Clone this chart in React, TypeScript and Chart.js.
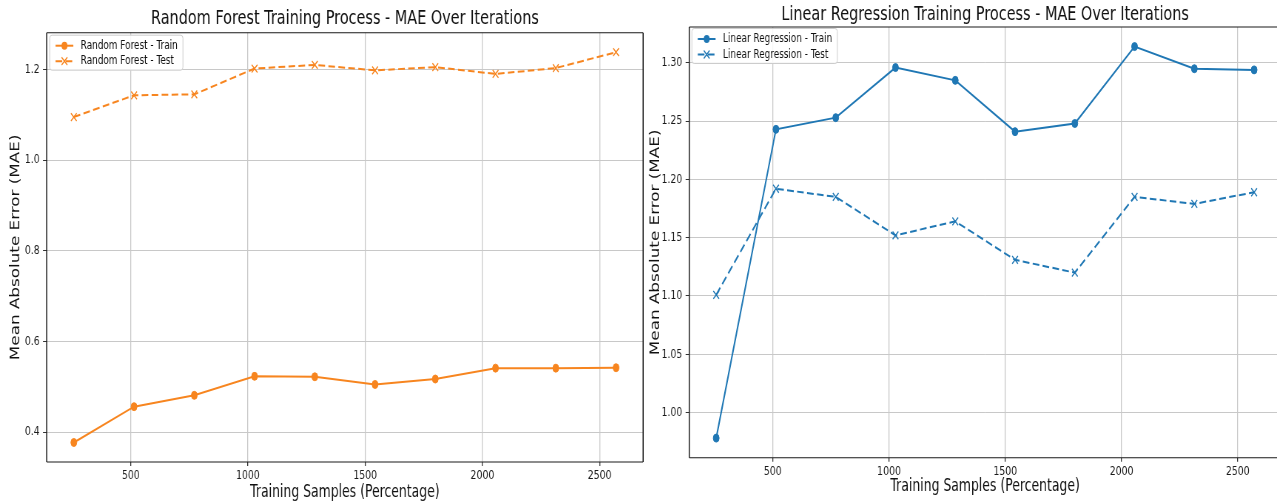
import React, { useEffect, useRef } from "react";
import { Chart, registerables } from "chart.js";

Chart.register(...registerables);

// ---------------- data ----------------
const TRAINING_SAMPLES = [257, 514, 771, 1028, 1285, 1542, 1799, 2056, 2313, 2570];
const X_TICKS = [500, 1000, 1500, 2000, 2500];
const X_TICK_LABELS = ["500", "1000", "1500", "2000", "2500"];

const RF_TRAIN_MAE = [0.377, 0.456, 0.481, 0.523, 0.522, 0.505, 0.517, 0.541, 0.541, 0.542];
const RF_TEST_MAE = [1.095, 1.143, 1.145, 1.202, 1.21, 1.198, 1.205, 1.19, 1.203, 1.238];
const RF_Y_TICKS = [0.4, 0.6, 0.8, 1.0, 1.2];
const RF_Y_TICK_LABELS = ["0.4", "0.6", "0.8", "1.0", "1.2"];

const LR_TRAIN_MAE = [0.978, 1.243, 1.253, 1.296, 1.285, 1.241, 1.248, 1.314, 1.295, 1.294];
const LR_TEST_MAE = [1.101, 1.192, 1.185, 1.152, 1.164, 1.131, 1.12, 1.185, 1.179, 1.189];
const LR_Y_TICKS = [1.0, 1.05, 1.1, 1.15, 1.2, 1.25, 1.3];
const LR_Y_TICK_LABELS = ["1.00", "1.05", "1.10", "1.15", "1.20", "1.25", "1.30"];

// ---------------- styling / layout ----------------
const SX = 0.74; // horizontal squeeze of the reference picture
const H = 503;
const FONT = "'DejaVu Sans', 'Noto Sans', sans-serif";

type Spec = {
  title: string;
  trainLabel: string;
  testLabel: string;
  color: string;
  train: number[];
  test: number[];
  yTicks: number[];
  yTickLabels: string[];
  width: number;
  displayLeft: number;
  yAxisWidth: number;
  padRight: number;
  padBottom: number;
  titleTop: number;
  titleBottom: number;
  yTitlePad: number;
  xTitlePad: number;
  legendX: number;
  legendY: number;
  rightSpine: boolean;
};

const RF_SPEC: Spec = {
  title: "Random Forest Training Process - MAE Over Iterations",
  trainLabel: "Random Forest - Train",
  testLabel: "Random Forest - Test",
  color: "#f7851f",
  train: RF_TRAIN_MAE,
  test: RF_TEST_MAE,
  yTicks: RF_Y_TICKS,
  yTickLabels: RF_Y_TICK_LABELS,
  width: 876,
  displayLeft: 0,
  yAxisWidth: 63.1,
  padRight: 5.7,
  padBottom: 0,
  titleTop: 7,
  titleBottom: 1.7,
  yTitlePad: 11.6,
  xTitlePad: 0,
  legendX: 4,
  legendY: 2.5,
  rightSpine: true,
};

const LR_SPEC: Spec = {
  title: "Linear Regression Training Process - MAE Over Iterations",
  trainLabel: "Linear Regression - Train",
  testLabel: "Linear Regression - Test",
  color: "#1f77b4",
  train: LR_TRAIN_MAE,
  test: LR_TEST_MAE,
  yTicks: LR_Y_TICKS,
  yTickLabels: LR_Y_TICK_LABELS,
  width: 900,
  displayLeft: 648,
  yAxisWidth: 55.8,
  padRight: 44.6,
  padBottom: 4.3,
  titleTop: 3,
  titleBottom: 0,
  yTitlePad: 0.8,
  xTitlePad: 1.7,
  legendX: 3.5,
  legendY: 1.5,
  rightSpine: false, // cut off by the picture edge in the reference
};

function paddedRange(vals: number[]): [number, number] {
  const mn = Math.min(...vals);
  const mx = Math.max(...vals);
  const m = (mx - mn) * 0.05;
  return [mn - m, mx + m];
}

function makeFramePlugin(rightSpine: boolean) {
  return {
    id: "mplFrame",
    afterDatasetsDraw(chart: any) {
      const { ctx, chartArea: a } = chart;
      ctx.save();
      ctx.strokeStyle = "#1a1a1a";
      ctx.lineWidth = 1.1;
      ctx.beginPath();
      ctx.moveTo(a.left, a.top);
      ctx.lineTo(a.right, a.top);
      ctx.moveTo(a.left, a.bottom);
      ctx.lineTo(a.right, a.bottom);
      ctx.stroke();
      ctx.lineWidth = 1.5;
      ctx.beginPath();
      ctx.moveTo(a.left, a.top);
      ctx.lineTo(a.left, a.bottom);
      if (rightSpine) {
        ctx.moveTo(a.right, a.top);
        ctx.lineTo(a.right, a.bottom);
      }
      ctx.stroke();
      ctx.restore();
    },
  };
}

function makeLegendPlugin(offX: number, offY: number) {
  return {
    id: "mplLegend",
    afterDraw(chart: any) {
      const { ctx, chartArea: a } = chart;
      const ds = chart.data.datasets;
      const fs = 12;
      ctx.save();
      ctx.font = `${fs}px ${FONT}`;
      const textW = Math.max(...ds.map((d: any) => ctx.measureText(d.label).width));
      const left = a.left + offX;
      const top = a.top + offY;
      const w = 42 + textW + 7;
      const h = 35;
      ctx.beginPath();
      if ((ctx as any).roundRect) (ctx as any).roundRect(left, top, w, h, 3);
      else ctx.rect(left, top, w, h);
      ctx.fillStyle = "rgba(255,255,255,0.85)";
      ctx.fill();
      ctx.strokeStyle = "#cccccc";
      ctx.lineWidth = 1;
      ctx.stroke();
      ds.forEach((d: any, i: number) => {
        const cy = top + 10.5 + i * 15.5;
        const x0 = left + 8;
        const x1 = left + 32;
        const cx = (x0 + x1) / 2;
        ctx.strokeStyle = d.borderColor;
        ctx.lineWidth = d.borderWidth;
        ctx.setLineDash(d.borderDash || []);
        ctx.beginPath();
        ctx.moveTo(x0, cy);
        ctx.lineTo(x1, cy);
        ctx.stroke();
        ctx.setLineDash([]);
        if (d.pointStyle === "circle") {
          ctx.beginPath();
          ctx.arc(cx, cy, d.pointRadius, 0, Math.PI * 2);
          ctx.fillStyle = d.pointBackgroundColor;
          ctx.fill();
        } else {
          const r = d.pointRadius * Math.SQRT1_2;
          ctx.lineWidth = d.pointBorderWidth;
          ctx.beginPath();
          ctx.moveTo(cx - r, cy - r);
          ctx.lineTo(cx + r, cy + r);
          ctx.moveTo(cx - r, cy + r);
          ctx.lineTo(cx + r, cy - r);
          ctx.stroke();
        }
        ctx.fillStyle = "#111";
        ctx.textBaseline = "middle";
        ctx.textAlign = "left";
        ctx.fillText(d.label, left + 42, cy);
      });
      ctx.restore();
    },
  };
}

function buildConfig(s: Spec): any {
  const xr = paddedRange(TRAINING_SAMPLES);
  const yr = paddedRange([...s.train, ...s.test]);
  const toPts = (ys: number[]) => TRAINING_SAMPLES.map((x, i) => ({ x, y: ys[i] }));
  const tickFont = { family: FONT, size: 12.6 };
  const labelFont = { family: FONT, size: 16.8, lineHeight: "20px" };
  return {
    type: "line",
    data: {
      datasets: [
        {
          label: s.trainLabel,
          data: toPts(s.train),
          borderColor: s.color,
          backgroundColor: s.color,
          borderWidth: 2,
          pointStyle: "circle",
          pointRadius: 4,
          pointBorderWidth: 1,
          pointBackgroundColor: s.color,
          pointBorderColor: s.color,
          tension: 0,
          fill: false,
        },
        {
          label: s.testLabel,
          data: toPts(s.test),
          borderColor: s.color,
          backgroundColor: s.color,
          borderWidth: 2,
          borderDash: [9, 4.5],
          pointStyle: "crossRot",
          pointRadius: 5.5,
          pointBorderWidth: 1.4,
          pointBackgroundColor: s.color,
          pointBorderColor: s.color,
          tension: 0,
          fill: false,
        },
      ],
    },
    options: {
      responsive: false,
      animation: false,
      devicePixelRatio: 1,
      events: [],
      layout: { padding: { left: 0, right: s.padRight, top: 0, bottom: s.padBottom } },
      plugins: {
        legend: { display: false },
        tooltip: { enabled: false },
        title: {
          display: true,
          text: s.title,
          color: "#111",
          fullSize: false,
          font: { family: FONT, size: 19.5, weight: "normal", lineHeight: "24px" },
          padding: { top: s.titleTop, bottom: s.titleBottom },
        },
      },
      scales: {
        x: {
          type: "linear",
          min: xr[0],
          max: xr[1],
          afterBuildTicks: (sc: any) => {
            sc.ticks = X_TICKS.map((v) => ({ value: v }));
          },
          afterFit: (sc: any) => {
            sc.height = 41;
          },
          ticks: {
            callback: (_v: any, i: number) => X_TICK_LABELS[i],
            font: tickFont,
            color: "#1a1a1a",
            padding: 2,
            maxRotation: 0,
            autoSkip: false,
          },
          grid: {
            color: "#c8c8c8",
            lineWidth: 1.3,
            tickColor: "#333",
            tickLength: 4,
            tickWidth: 1.3,
          },
          border: { display: false },
          title: {
            display: true,
            text: "Training Samples (Percentage)",
            color: "#111",
            font: labelFont,
            padding: { top: 0, bottom: s.xTitlePad },
          },
        },
        y: {
          type: "linear",
          min: yr[0],
          max: yr[1],
          afterBuildTicks: (sc: any) => {
            sc.ticks = s.yTicks.map((v) => ({ value: v }));
          },
          afterFit: (sc: any) => {
            sc.width = s.yAxisWidth;
          },
          ticks: {
            callback: (_v: any, i: number) => s.yTickLabels[i],
            font: tickFont,
            color: "#1a1a1a",
            padding: 4.5,
            autoSkip: false,
          },
          grid: {
            color: "#c8c8c8",
            lineWidth: 1,
            tickColor: "#333",
            tickLength: 5,
            tickWidth: 1,
          },
          border: { display: false },
          title: {
            display: true,
            text: "Mean Absolute Error (MAE)",
            color: "#111",
            font: labelFont,
            padding: { top: s.yTitlePad, bottom: 0 },
          },
        },
      },
    },
    plugins: [makeFramePlugin(s.rightSpine), makeLegendPlugin(s.legendX, s.legendY)],
  };
}

function Panel({ spec }: { spec: Spec }) {
  const ref = useRef<HTMLCanvasElement | null>(null);
  useEffect(() => {
    const canvas = ref.current;
    if (!canvas) return;
    const chart = new Chart(canvas, buildConfig(spec));
    return () => chart.destroy();
  }, [spec]);
  return (
    <div
      style={{
        position: "absolute",
        left: spec.displayLeft,
        top: 0,
        width: spec.width,
        height: H,
        transform: `scaleX(${SX})`,
        transformOrigin: "0 0",
      }}
    >
      <canvas
        ref={ref}
        width={spec.width}
        height={H}
        style={{ display: "block", width: spec.width, height: H }}
      />
    </div>
  );
}

export default function App() {
  return (
    <div
      style={{
        position: "fixed",
        left: 0,
        top: 0,
        width: 1277,
        height: H,
        overflow: "hidden",
        background: "#fff",
      }}
    >
      <Panel spec={RF_SPEC} />
      <Panel spec={LR_SPEC} />
    </div>
  );
}
